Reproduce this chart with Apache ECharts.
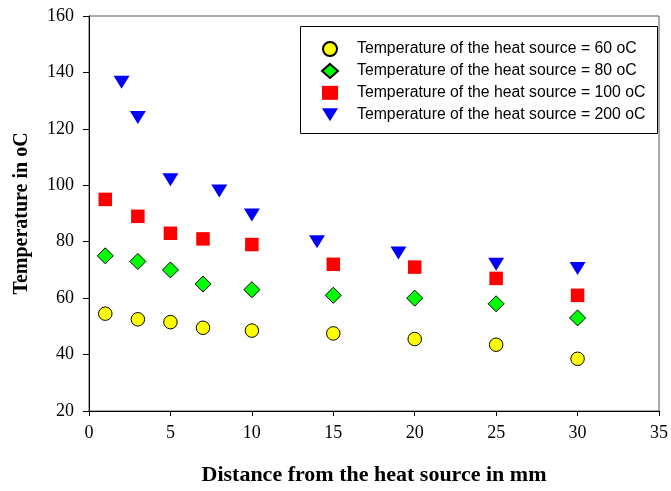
<!DOCTYPE html>
<html>
<head>
<meta charset="utf-8">
<script src="https://cdn.jsdelivr.net/npm/echarts@6/dist/echarts.min.js"></script>
<style>
  html, body { margin: 0; padding: 0; background: #fff; }
  #chart { width: 671px; height: 491px; }
</style>
</head>
<body>
<div id="chart"></div>
<script>
// Measured temperatures (oC) at distances (mm) from the heat source
const seriesNames = [
  'Temperature of the heat source = 60 oC',
  'Temperature of the heat source = 80 oC',
  'Temperature of the heat source = 100 oC',
  'Temperature of the heat source = 200 oC'
];
const dist60 = [1, 3, 5, 7, 10, 15, 20, 25, 30];
const temp60 = [54.5, 52.5, 51.5, 49.5, 48.5, 47.5, 45.5, 43.5, 38.5];
const dist80 = [1, 3, 5, 7, 10, 15, 20, 25, 30];
const temp80 = [75, 73, 70, 65, 63, 61, 60, 58, 53];
const dist100 = [1, 3, 5, 7, 10, 15, 20, 25, 30];
const temp100 = [95, 89, 83, 81, 79, 72, 71, 67, 61];
const dist200 = [2, 3, 5, 8, 10, 14, 19, 25, 30];
const temp200 = [136.5, 124, 102, 98, 89.5, 80, 76, 72, 70.5];
const xTicks = [0, 5, 10, 15, 20, 25, 30, 35];
const yTicks = [20, 40, 60, 80, 100, 120, 140, 160];

const pairs = (xs, ys) => xs.map((x, i) => [x, ys[i]]);

const chart = echarts.init(document.getElementById('chart'), null, { renderer: 'canvas' });

const serif = '"Liberation Serif", "Times New Roman", serif';
const axisLabelStyle = { fontFamily: serif, fontSize: 18, color: '#000' };
const downTriangle = 'path://M0,0L16,0L8,13Z';

chart.setOption({
  animation: false,
  backgroundColor: '#fff',
  grid: {
    left: 89, top: 16, right: 8, bottom: 73,
    show: true, borderColor: '#555', borderWidth: 1, backgroundColor: 'transparent'
  },
  // legend frame
  graphic: [{
    type: 'rect', z: 50,
    shape: { x: 300.5, y: 26.5, width: 357, height: 107 },
    style: { fill: '#fff', stroke: '#000', lineWidth: 1 }
  }],
  legend: {
    orient: 'vertical',
    left: 300, top: 27, z: 60,
    padding: [14, 10, 10, 21],
    itemGap: 5.9,
    itemWidth: 16, itemHeight: 14,
    itemTextGap: 20,
    textStyle: {
      fontFamily: '"Liberation Sans", Arial, sans-serif', fontSize: 15.8, lineHeight: 14, color: '#000',
      padding: [0, 0, 0, 14]
    },
    data: [
      { name: seriesNames[0] },
      { name: seriesNames[1] },
      { name: seriesNames[2] },
      { name: seriesNames[3], icon: downTriangle }
    ]
  },
  xAxis: {
    type: 'value',
    min: xTicks[0], max: xTicks[xTicks.length - 1], interval: 5,
    name: 'Distance from the heat source in mm',
    nameLocation: 'middle', nameGap: 53,
    nameTextStyle: { fontFamily: serif, fontSize: 22, fontWeight: 'bold', color: '#000' },
    axisLine: { show: true, lineStyle: { color: '#000', width: 1 } },
    axisTick: { show: true, inside: false, length: 5, lineStyle: { color: '#000' } },
    axisLabel: Object.assign({ margin: 13 }, axisLabelStyle),
    splitLine: { show: false }
  },
  yAxis: {
    type: 'value',
    min: yTicks[0], max: yTicks[yTicks.length - 1], interval: 20,
    name: 'Temperature in oC',
    nameLocation: 'middle', nameGap: 57, nameRotate: 90,
    nameTextStyle: { fontFamily: serif, fontSize: 20, fontWeight: 'bold', color: '#000' },
    axisLine: { show: true, lineStyle: { color: '#000', width: 1 } },
    axisTick: { show: true, inside: false, length: 6, lineStyle: { color: '#000' } },
    axisLabel: Object.assign({ margin: 15 }, axisLabelStyle),
    splitLine: { show: false }
  },
  series: [
    {
      name: seriesNames[0], type: 'scatter', symbol: 'circle', symbolSize: 13.5,
      itemStyle: { color: '#FFFF00', borderColor: '#000', borderWidth: 1, opacity: 1 },
      data: pairs(dist60, temp60)
    },
    {
      name: seriesNames[1], type: 'scatter', symbol: 'diamond', symbolSize: 16,
      itemStyle: { color: '#00FF00', borderColor: '#000', borderWidth: 1, opacity: 1 },
      data: pairs(dist80, temp80)
    },
    {
      name: seriesNames[2], type: 'scatter', symbol: 'rect', symbolSize: 13.5,
      itemStyle: { color: '#FF0000', opacity: 1 },
      data: pairs(dist100, temp100)
    },
    {
      name: seriesNames[3], type: 'scatter', symbol: 'triangle', symbolRotate: 180, symbolSize: [16, 13],
      itemStyle: { color: '#0000FF', opacity: 1 },
      data: pairs(dist200, temp200)
    }
  ]
});
</script>
</body>
</html>
